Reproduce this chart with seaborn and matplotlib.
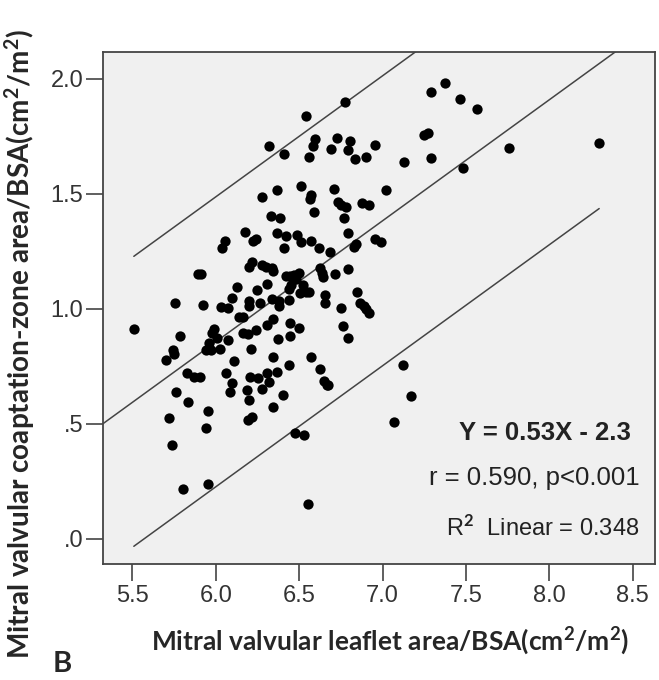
import numpy as np
import pandas as pd
import matplotlib
matplotlib.use("Agg")
import matplotlib.pyplot as plt
import seaborn as sns

# ---- data ----
leaflet = [7.377, 7.293, 7.464, 7.566, 6.776, 6.542, 8.299, 7.757, 7.247, 7.270,
           7.293, 7.484, 7.131, 6.319, 6.412, 6.597, 6.581, 6.558, 6.726, 6.692,
           6.808, 6.792, 6.833, 6.899, 6.954, 7.022, 6.513, 6.367, 6.278, 6.574,
           6.563, 6.710, 6.731, 6.754, 6.779, 6.877, 6.920, 6.330, 6.387, 6.590,
           6.770, 6.178, 6.367, 6.419, 6.487, 6.224, 6.242, 6.513, 6.412, 6.574,
           6.622, 6.688, 6.792, 6.840, 6.827, 6.954, 6.993, 6.055, 6.039, 6.217,
           6.199, 6.278, 6.299, 6.337, 6.346, 6.423, 6.447, 6.469, 6.501, 6.462,
           6.483, 6.626, 6.637, 6.644, 6.717, 6.795, 5.894, 5.914, 6.126, 6.308,
           6.246, 6.442, 6.449, 6.524, 6.542, 6.506, 6.558, 6.656, 6.849, 6.096,
           6.199, 6.199, 6.267, 6.335, 6.381, 6.381, 6.442, 5.755, 5.925, 6.030,
           6.076, 6.656, 6.754, 6.868, 6.888, 6.904, 6.918, 6.137, 6.164, 6.342,
           6.310, 6.447, 6.501, 5.509, 5.987, 5.978, 6.164, 6.192, 6.242, 6.763,
           5.787, 6.005, 6.076, 6.374, 6.447, 6.795, 5.960, 5.741, 5.750, 5.941,
           5.971, 6.023, 6.210, 5.700, 6.108, 6.342, 6.572, 6.442, 6.624, 5.828,
           5.869, 5.905, 6.064, 6.308, 6.365, 6.208, 6.251, 6.096, 6.317, 6.649,
           6.670, 6.676, 6.280, 6.087, 6.187, 6.201, 5.759, 6.403, 5.832, 5.955,
           6.344, 7.172, 7.122, 5.721, 6.192, 6.217, 7.070, 5.944, 6.474, 6.528,
           5.739, 5.951, 5.805, 6.556]
coaptation = [1.980, 1.940, 1.913, 1.867, 1.899, 1.839, 1.722, 1.700, 1.754, 1.764,
              1.654, 1.612, 1.639, 1.709, 1.672, 1.739, 1.705, 1.659, 1.742, 1.696,
              1.729, 1.689, 1.649, 1.659, 1.712, 1.514, 1.534, 1.517, 1.484, 1.496,
              1.476, 1.522, 1.464, 1.451, 1.443, 1.459, 1.451, 1.401, 1.393, 1.421,
              1.393, 1.334, 1.331, 1.314, 1.321, 1.293, 1.301, 1.288, 1.265, 1.296,
              1.265, 1.248, 1.329, 1.281, 1.268, 1.301, 1.290, 1.293, 1.263, 1.205,
              1.181, 1.188, 1.181, 1.176, 1.165, 1.143, 1.143, 1.146, 1.156, 1.130,
              1.130, 1.176, 1.156, 1.140, 1.151, 1.171, 1.151, 1.151, 1.096, 1.106,
              1.080, 1.085, 1.101, 1.101, 1.073, 1.067, 1.073, 1.060, 1.073, 1.048,
              1.035, 1.013, 1.027, 1.043, 1.035, 1.010, 1.040, 1.027, 1.018, 1.007,
              1.002, 1.027, 1.005, 1.027, 1.010, 0.998, 0.982, 0.965, 0.963, 0.955,
              0.930, 0.938, 0.915, 0.913, 0.913, 0.894, 0.894, 0.889, 0.907, 0.923,
              0.880, 0.874, 0.864, 0.869, 0.880, 0.874, 0.852, 0.819, 0.805, 0.819,
              0.819, 0.824, 0.824, 0.777, 0.774, 0.790, 0.789, 0.755, 0.739, 0.719,
              0.702, 0.705, 0.719, 0.719, 0.727, 0.702, 0.699, 0.677, 0.682, 0.686,
              0.669, 0.669, 0.652, 0.636, 0.647, 0.604, 0.636, 0.627, 0.594, 0.557,
              0.572, 0.622, 0.755, 0.527, 0.516, 0.531, 0.507, 0.481, 0.461, 0.453,
              0.406, 0.240, 0.218, 0.151]

slope = 0.526
intercept = -2.30
pi_half_width = 0.63

x_ticks = [5.5, 6.0, 6.5, 7.0, 7.5, 8.0, 8.5]
x_tick_labels = ["5.5", "6.0", "6.5", "7.0", "7.5", "8.0", "8.5"]
y_ticks = [0.0, 0.5, 1.0, 1.5, 2.0]
y_tick_labels = [".0", ".5", "1.0", "1.5", "2.0"]

annot_eq = "Y = 0.53X - 2.3"
annot_r = "r = 0.590, p<0.001"
annot_r2 = "R$^2$  Linear = 0.348"

x_label = "Mitral valvular leaflet area/BSA(cm$^2$/m$^2$)"
y_label = "Mitral valvular coaptation-zone area/BSA(cm$^2$/m$^2$)"
panel = "B"

df = pd.DataFrame({"leaflet": leaflet, "coaptation": coaptation})

sns.set_style("white")
plt.rcParams["font.family"] = ["Liberation Sans", "DejaVu Sans"]
plt.rcParams["mathtext.fontset"] = "custom"
plt.rcParams["mathtext.rm"] = "Lato:bold"
plt.rcParams["mathtext.it"] = "Lato:bold"

SANS = ["Liberation Sans", "DejaVu Sans"]
BOLD = ["Lato", "DejaVu Sans"]

fig = plt.figure(figsize=(6.59, 6.80), dpi=100)
ax = fig.add_axes([0.156, 0.170, 0.838, 0.754])
ax.set_facecolor("#f0f0f0")

sns.scatterplot(data=df, x="leaflet", y="coaptation", ax=ax, color="black",
                s=55, edgecolor="black", linewidth=0, zorder=3)

ax.set_xlim(5.323, 8.634)
ax.set_ylim(-0.111, 2.117)

line_kw = dict(color="#444444", linewidth=1.1, zorder=2)
xs_full = np.array(ax.get_xlim())
ax.plot(xs_full, slope * xs_full + intercept, **line_kw)
xs = np.array([df["leaflet"].min(), df["leaflet"].max()])
fit = slope * xs + intercept
ax.plot(xs, fit + pi_half_width, **line_kw)
ax.plot(xs, fit - pi_half_width, **line_kw)
ax.set_xlim(5.323, 8.634)
ax.set_ylim(-0.111, 2.117)

ax.set_xticks(x_ticks)
ax.set_xticklabels(x_tick_labels, family=SANS)
ax.set_yticks(y_ticks)
ax.set_yticklabels(y_tick_labels, family=SANS)
ax.tick_params(axis="both", direction="out", length=12, width=1.2,
               color="#444444", labelsize=17, labelcolor="#333333",
               bottom=True, left=True)
ax.tick_params(axis="x", pad=3)
ax.tick_params(axis="y", pad=2)
for sp in ax.spines.values():
    sp.set_color("#444444")
    sp.set_linewidth(1.3)

ax.set_xlabel("")
ax.set_ylabel("")

fig.text(0.592, 0.058, x_label, ha="center", va="center", fontsize=19,
         fontweight="bold", family=BOLD)
fig.text(0.030, 0.494, y_label, ha="center", va="center", rotation=90,
         fontsize=20.1, fontweight="bold", family=BOLD)
fig.text(0.094, 0.024, panel, ha="center", va="center", fontsize=21,
         fontweight="bold", family=BOLD)

ax.text(0.957, 0.256, annot_eq, transform=ax.transAxes, ha="right", va="center",
        fontsize=18.5, fontweight="bold", color="#222222", family=SANS)
ax.text(0.972, 0.169, annot_r, transform=ax.transAxes, ha="right", va="center",
        fontsize=18.5, color="#222222", family=SANS)
with plt.rc_context({"mathtext.rm": "Liberation Sans", "mathtext.it": "Liberation Sans"}):
    ax.text(0.972, 0.071, annot_r2, transform=ax.transAxes, ha="right", va="center",
            fontsize=17, color="#222222", family=SANS)

fig.savefig("out.png", dpi=100)
